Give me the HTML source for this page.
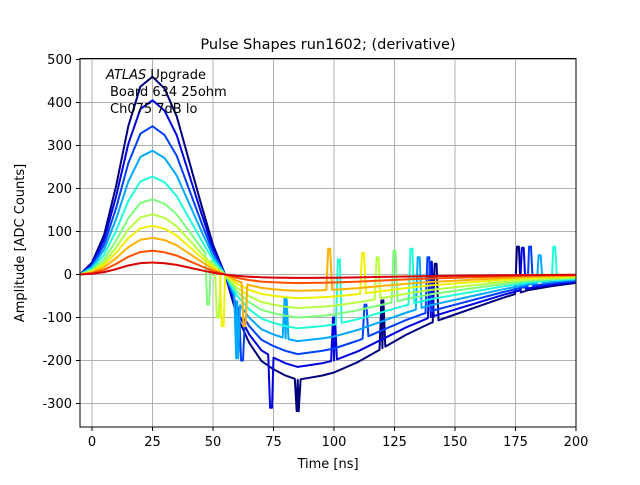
<!DOCTYPE html>
<html><head><meta charset="utf-8"><style>
body{margin:0;background:#fff}
svg text{font-family:"DejaVu Sans","Liberation Sans",sans-serif;fill:#000}
</style></head><body>
<svg id="chart" width="640" height="480" viewBox="0 0 640 480">
<rect width="640" height="480" fill="#fff"/>
<g id="grid"></g>
<g id="series"></g>
<rect x="80" y="58.5" width="496" height="368.5" fill="none" stroke="#000" stroke-width="1"/>
<g id="ticks"></g>
<text x="328" y="49" font-size="14.5" text-anchor="middle">Pulse Shapes run1602; (derivative)</text>
<text x="328" y="468" font-size="13" text-anchor="middle">Time [ns]</text>
<text transform="translate(24,243) rotate(-90)" font-size="13" text-anchor="middle">Amplitude [ADC Counts]</text>
<text x="106" y="79" font-size="13"><tspan font-style="italic">ATLAS</tspan> Upgrade</text>
<text x="110" y="96" font-size="13">Board 634 25ohm</text>
<text x="110" y="113" font-size="13">Ch075 7dB lo</text>
</svg>
<script>
const xTicks=[0,25,50,75,100,125,150,175,200];
const yTicks=[-300,-200,-100,0,100,200,300,400,500];
const shapeT=[-5,0,5,10,15,20,25,30,35,40,45,50,55,60,65,70,75,80,85,90,95,100,110,120,130,140,150,160,170,180,190,200];
const shapePos=[0,0.06,0.2,0.45,0.75,0.95,1,0.94,0.8,0.58,0.36,0.15,0,0,0,0,0,0,0,0,0,0,0,0,0,0,0,0,0,0,0,0];
const shapeNeg=[0,0,0,0,0,0,0,0,0,0,0,0,0,0.4,0.65,0.82,0.9,0.96,1,0.98,0.96,0.93,0.83,0.7,0.57,0.46,0.38,0.3,0.22,0.15,0.11,0.08];
const peaks=[460,405,345,288,228,175,140,113,85,55,28];
const mins=[245,215,185,155,125,100,78,55,38,20,8];
const colors=["#00007f","#0000e0","#0040ff","#00a8ff","#1fffd8","#7dff7a","#b8ff40","#f0f000","#ffb000","#ff5000","#d80000"];
const spikes=[
 [[85,-318],[120,-60],[142,25],[176,65]],
 [[74,-310],[100,-100],[140,30],[178,62]],
 [[62,-200],[113,-70],[139,40],[181,65]],
 [[60,-195],[80,-55],[135,40],[185,45]],
 [[102,35],[132,60],[191,65]],
 [[48,-70],[125,55]],
 [[52,-100],[118,40]],
 [[54,-120],[112,50]],
 [[63,-120],[98,60]],
 [],
 []
];
const NS="http://www.w3.org/2000/svg";
const X=t=>92+t*2.42, Y=v=>274.5-v*0.43;
const grid=document.getElementById('grid'),ticks=document.getElementById('ticks'),ser=document.getElementById('series');
xTicks.forEach(t=>{
 const l=document.createElementNS(NS,'line');
 
 
 l.setAttribute('x1',X(t));l.setAttribute('x2',X(t));l.setAttribute('y1',58.5);l.setAttribute('y2',427);l.setAttribute('stroke','#b0b0b0');grid.appendChild(l);
 const k=document.createElementNS(NS,'line');
 
 
 k.setAttribute('x1',X(t));k.setAttribute('x2',X(t));k.setAttribute('y1',427);k.setAttribute('y2',431);k.setAttribute('stroke','#000');ticks.appendChild(k);
 const s=document.createElementNS(NS,'text');
 
 
 s.setAttribute('x',X(t));s.setAttribute('y',446);s.setAttribute('font-size','13');s.setAttribute('text-anchor','middle');s.textContent=t;ticks.appendChild(s);
});
yTicks.forEach(v=>{
 const l=document.createElementNS(NS,'line');
 
 
 l.setAttribute('x1',80);l.setAttribute('x2',576);l.setAttribute('y1',Y(v));l.setAttribute('y2',Y(v));l.setAttribute('stroke','#b0b0b0');grid.appendChild(l);
 const k=document.createElementNS(NS,'line');
 
 
 k.setAttribute('x1',76);k.setAttribute('x2',80);k.setAttribute('y1',Y(v));k.setAttribute('y2',Y(v));k.setAttribute('stroke','#000');ticks.appendChild(k);
 const s=document.createElementNS(NS,'text');
 
 
 s.setAttribute('x',72);s.setAttribute('y',Y(v)+4.5);s.setAttribute('font-size','13');s.setAttribute('text-anchor','end');s.textContent=v;ticks.appendChild(s);
});
function baseVal(i,t){
 for(let j=0;j<shapeT.length-1;j++){
  if(t>=shapeT[j]&&t<=shapeT[j+1]){
   const f=(t-shapeT[j])/(shapeT[j+1]-shapeT[j]);
   const p=shapePos[j]+f*(shapePos[j+1]-shapePos[j]);
   const n=shapeNeg[j]+f*(shapeNeg[j+1]-shapeNeg[j]);
   return p*peaks[i]-n*mins[i];
  }
 }
 return 0;
}
peaks.forEach((pk,i)=>{
 let pts=shapeT.map(t=>[t,baseVal(i,t)]);
 spikes[i].forEach(([t,v])=>{pts.push([t-1.2,baseVal(i,t-1.2)],[t-0.4,v],[t+0.4,v],[t+1.2,baseVal(i,t+1.2)]);});
 pts.sort((a,b)=>a[0]-b[0]);
 const pl=document.createElementNS(NS,'polyline');
 
 
 pl.setAttribute('points',pts.map(p=>X(p[0]).toFixed(1)+','+Y(p[1]).toFixed(1)).join(' '));
 pl.setAttribute('fill','none');pl.setAttribute('stroke',colors[i]);pl.setAttribute('stroke-width','2');pl.setAttribute('stroke-linejoin','round');
 ser.appendChild(pl);
});
</script>
</body></html>
